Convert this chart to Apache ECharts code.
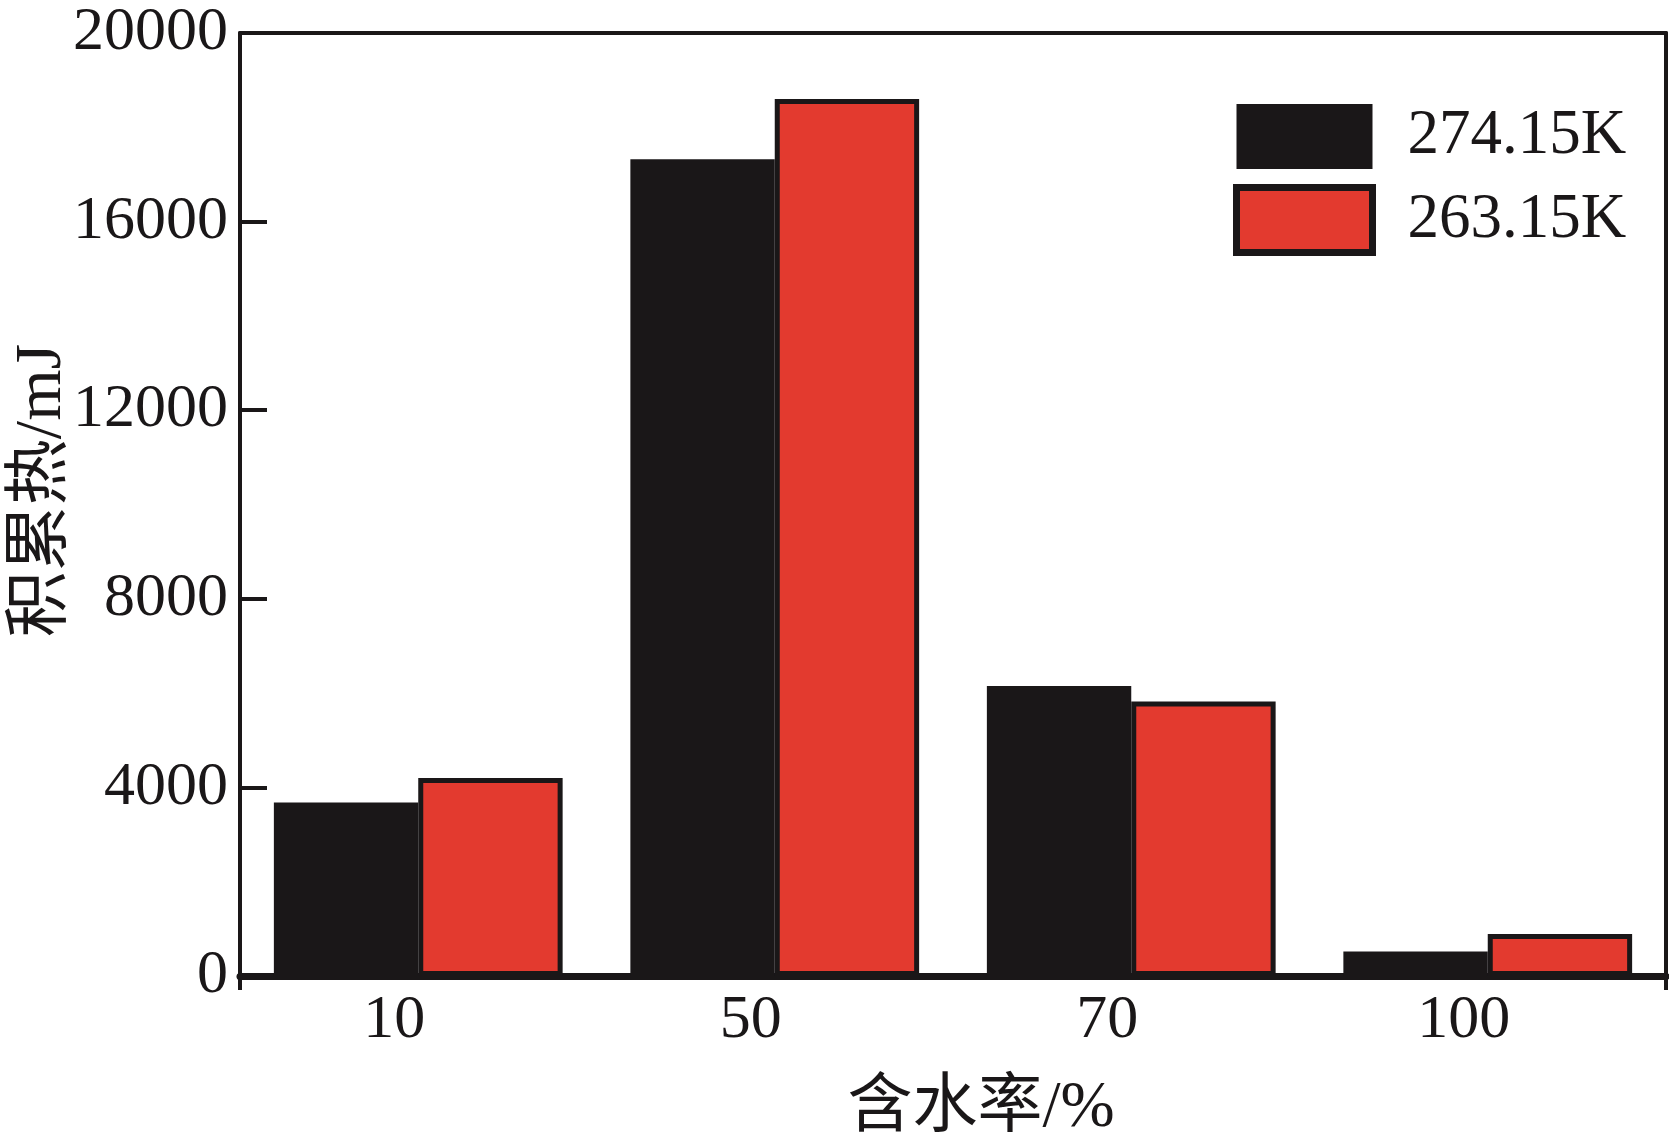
<!DOCTYPE html>
<html><head><meta charset="utf-8">
<script src="https://cdn.jsdelivr.net/npm/echarts@6/dist/echarts.min.js"></script>
<style>html,body{margin:0;padding:0;background:#fff}#c{width:1669px;height:1138px}</style>
</head><body><div id="c"></div>
<script>
var categories = ['10', '50', '70', '100'];
var series274 = [3680, 17320, 6150, 520];
var series263 = [4200, 18600, 5820, 890];
var seriesNames = ['274.15K', '263.15K'];
var yTicks = [0, 4000, 8000, 12000, 16000, 20000];

var FONT = '"Liberation Serif", "Times New Roman", "Noto Sans CJK SC", serif';
var INK = '#1a1718';
var chart = echarts.init(document.getElementById('c'));
chart.setOption({
  backgroundColor: '#fff',
  animation: false,
  textStyle: { fontFamily: FONT },
  grid: { left: 240, top: 33, right: 3, bottom: 162, outerBoundsMode: 'none', containLabel: false },
  legend: {
    left: 1233, top: 104, orient: 'vertical', padding: 0,
    itemWidth: 136, itemHeight: 65, itemGap: 15,
    icon: 'rect',
    textStyle: { fontFamily: FONT, fontSize: 63, color: INK, padding: [0, 0, 0, 30] },
    data: [
      { name: seriesNames[0], itemStyle: { color: INK, borderWidth: 0 } },
      { name: seriesNames[1], itemStyle: { color: '#e33a2f', borderColor: INK, borderWidth: 7 } }
    ]
  },
  xAxis: [{
    type: 'category', data: categories,
    name: '含水率/%', nameLocation: 'middle', nameGap: 100, nameMoveOverlap: false,
    nameTextStyle: { fontFamily: FONT, fontSize: 65, color: INK, padding: [0, 0, 0, 56] },
    axisLine: { onZero: false, lineStyle: { color: INK, width: 7 } },
    axisTick: { show: true, interval: function (i) { return i === 0; }, length: 14, lineStyle: { color: INK, width: 4 } },
    axisLabel: { fontFamily: FONT, fontSize: 62, color: INK, margin: 14, padding: [0, 48, 0, 0] }
  }, {
    type: 'category', data: categories, position: 'top',
    axisLine: { show: true, onZero: false, lineStyle: { color: INK, width: 4 } },
    axisTick: { show: false }, axisLabel: { show: false }
  }],
  yAxis: [{
    type: 'value', min: 0, max: 20000, interval: 4000,
    name: '积累热/mJ', nameLocation: 'middle', nameGap: 164, nameRotate: 90, nameMoveOverlap: false,
    nameTextStyle: { fontFamily: FONT, fontSize: 66, color: INK, padding: [0, 0, 0, 28] },
    axisLine: { show: true, onZero: false, lineStyle: { color: INK, width: 4 } },
    axisTick: { show: true, inside: true, length: 27, lineStyle: { color: INK, width: 4 } },
    axisLabel: { fontFamily: FONT, fontSize: 62, color: INK, margin: 12,
      formatter: function (v) { return yTicks.indexOf(v) >= 0 ? String(v) : ''; } },
    splitLine: { show: false }
  }, {
    type: 'value', min: 0, max: 20000, interval: 4000, position: 'right',
    axisLine: { show: true, onZero: false, lineStyle: { color: INK, width: 4 } },
    axisTick: { show: false }, axisLabel: { show: false }, splitLine: { show: false }
  }],
  series: [{
    name: seriesNames[0], type: 'bar', data: series274,
    barGap: '0%', barCategoryGap: '19%',
    itemStyle: { color: INK }
  }, {
    name: seriesNames[1], type: 'bar', data: series263,
    barGap: '0%', barCategoryGap: '19%',
    itemStyle: { color: '#e33a2f', borderColor: INK, borderWidth: 5 }
  }]
});
</script></body></html>
